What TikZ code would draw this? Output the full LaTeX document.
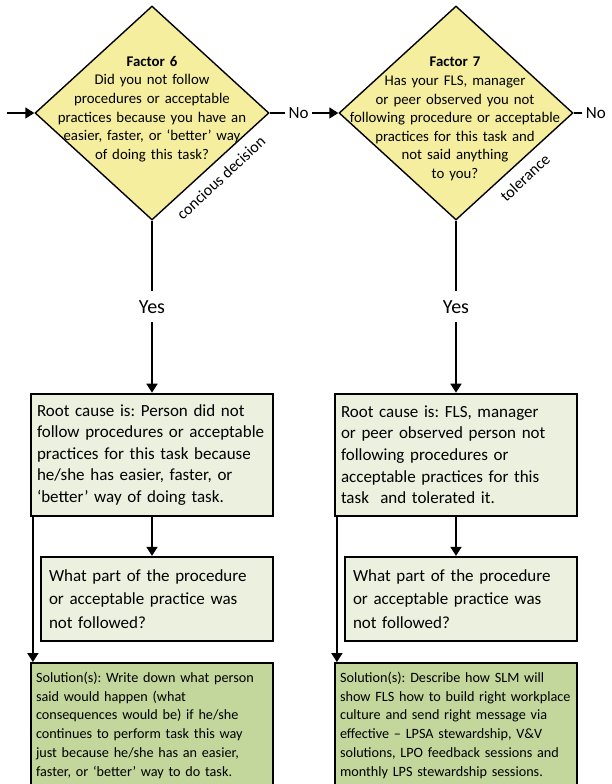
\documentclass[tikz,border=0pt]{standalone}
\usepackage{fontspec}
\setmainfont{Carlito}
\frenchspacing
\usetikzlibrary{shapes.geometric, arrows.meta, positioning}
\definecolor{factoryellow}{RGB}{245,238,158}
\definecolor{causegreen}{RGB}{235,241,222}
\definecolor{solutiongreen}{RGB}{195,214,155}
\tikzstyle{arrow} = [line width=1.6pt,-{Triangle[length=9pt,width=11pt]}]
\tikzstyle{line} = [line width=1.6pt]
\tikzstyle{decision} = [diamond, draw=black, line width=1.4pt, fill=factoryellow, minimum width=234pt, minimum height=214pt, inner sep=0pt]
\tikzstyle{question} = [text width=230pt, align=center, inner sep=0pt, font=\fontsize{14.8}{18.6}\selectfont]
\tikzstyle{causebox} = [rectangle, draw=black, line width=2.2pt, fill=causegreen, minimum width=242pt, minimum height=122pt, inner xsep=6pt, text width=230pt, align=left, font=\fontsize{17}{21.6}\selectfont]
\tikzstyle{partbox} = [rectangle, draw=black, line width=2.2pt, fill=causegreen, minimum width=232pt, minimum height=84pt, inner xsep=8pt, text width=216pt, align=left, font=\fontsize{17}{23.7}\selectfont]
\tikzstyle{solution} = [rectangle, draw=black, line width=2.2pt, fill=solutiongreen, minimum width=242pt, minimum height=124pt, inner xsep=5pt, text width=232pt, align=left, font=\fontsize{14.2}{18.7}\selectfont]
\tikzstyle{answer} = [fill=white, inner xsep=4pt, inner ysep=9pt, font=\fontsize{17}{20}\selectfont]
\tikzstyle{tag} = [rotate=43, anchor=north, inner sep=9pt, font=\fontsize{16}{18}\selectfont]

\begin{document}
\begin{tikzpicture}[x=1pt, y=1pt]
\useasboundingbox (0,0) rectangle (612,-784);
% Factor decisions
\node (f6) [decision] at (152,-113) {};
\node (q6) [question] at (152,-109) {\textbf{Factor 6}\\Did you not follow\\procedures or acceptable\\practices because you have an\\easier, faster, or ‘better’ way\\of doing this task?};
\node (f7) [decision] at (456,-113) {};
\node (q7) [question] at (455,-119) {\textbf{Factor 7}\\Has your FLS, manager\\or peer observed you not\\following procedure or acceptable\\practices for this task and\\not said anything\\to you?};
\node (tag6) [tag] at (f6.south east) {concious decision};
\node (tag7) [tag] at (f7.south east) {tolerance};

% Root causes and follow-up boxes
\node (root6) [causebox, below=172pt of f6.south] {Root cause is: Person did not\\follow procedures or acceptable\\practices for this task because\\he/she has easier, faster, or\\‘better’ way of doing task.};
\node (part6) [partbox, below=39pt of root6.south east, anchor=north east] {What part of the procedure\\or acceptable practice was\\not followed?};
\node (sol6) [solution, below=20pt of part6.south east, anchor=north east] {Solution(s): Write down what person\\said would happen (what\\consequences would be) if he/she\\continues to perform task this way\\just because he/she has an easier,\\faster, or ‘better’ way to do task.};

\node (root7) [causebox, below=172pt of f7.south] {Root cause is: FLS, manager\\or peer observed person not\\following procedures or\\acceptable practices for this\\task~ and tolerated it.};
\node (part7) [partbox, below=39pt of root7.south east, anchor=north east] {What part of the procedure\\or acceptable practice was\\not followed?};
\node (sol7) [solution, below=20pt of part7.south east, anchor=north east] {Solution(s): Describe how SLM will\\\mbox{show FLS how to build right workplace}\\culture and send right message via\\effective -- LPSA stewardship, V\&V\\solutions, LPO feedback sessions and\\monthly LPS stewardship sessions.};

% Connectors
\coordinate (in6) at (7,-113);
\draw [arrow] (in6) -- (f6.west);
\draw [arrow] (f6.east) -- node[answer, pos=0.42] {No} (f7.west);
\node (no7) [answer, right=8pt of f7.east] {No};
\draw [line] (f7.east) -- (no7);

\draw [arrow] (f6.south) -- node[answer, font=\fontsize{20}{22}\selectfont] {Yes} (f6.south |- root6.north);
\draw [arrow] (f7.south) -- node[answer, font=\fontsize{20}{22}\selectfont] {Yes} (f7.south |- root7.north);

\draw [arrow] (root6.south) -- (root6.south |- part6.north);
\draw [arrow] (root7.south) -- (root7.south |- part7.north);
\draw [arrow] ([xshift=3pt]root6.south west) -- ([xshift=3pt]root6.south west |- sol6.north);
\draw [arrow] ([xshift=3pt]root7.south west) -- ([xshift=3pt]root7.south west |- sol7.north);
\end{tikzpicture}
\end{document}
